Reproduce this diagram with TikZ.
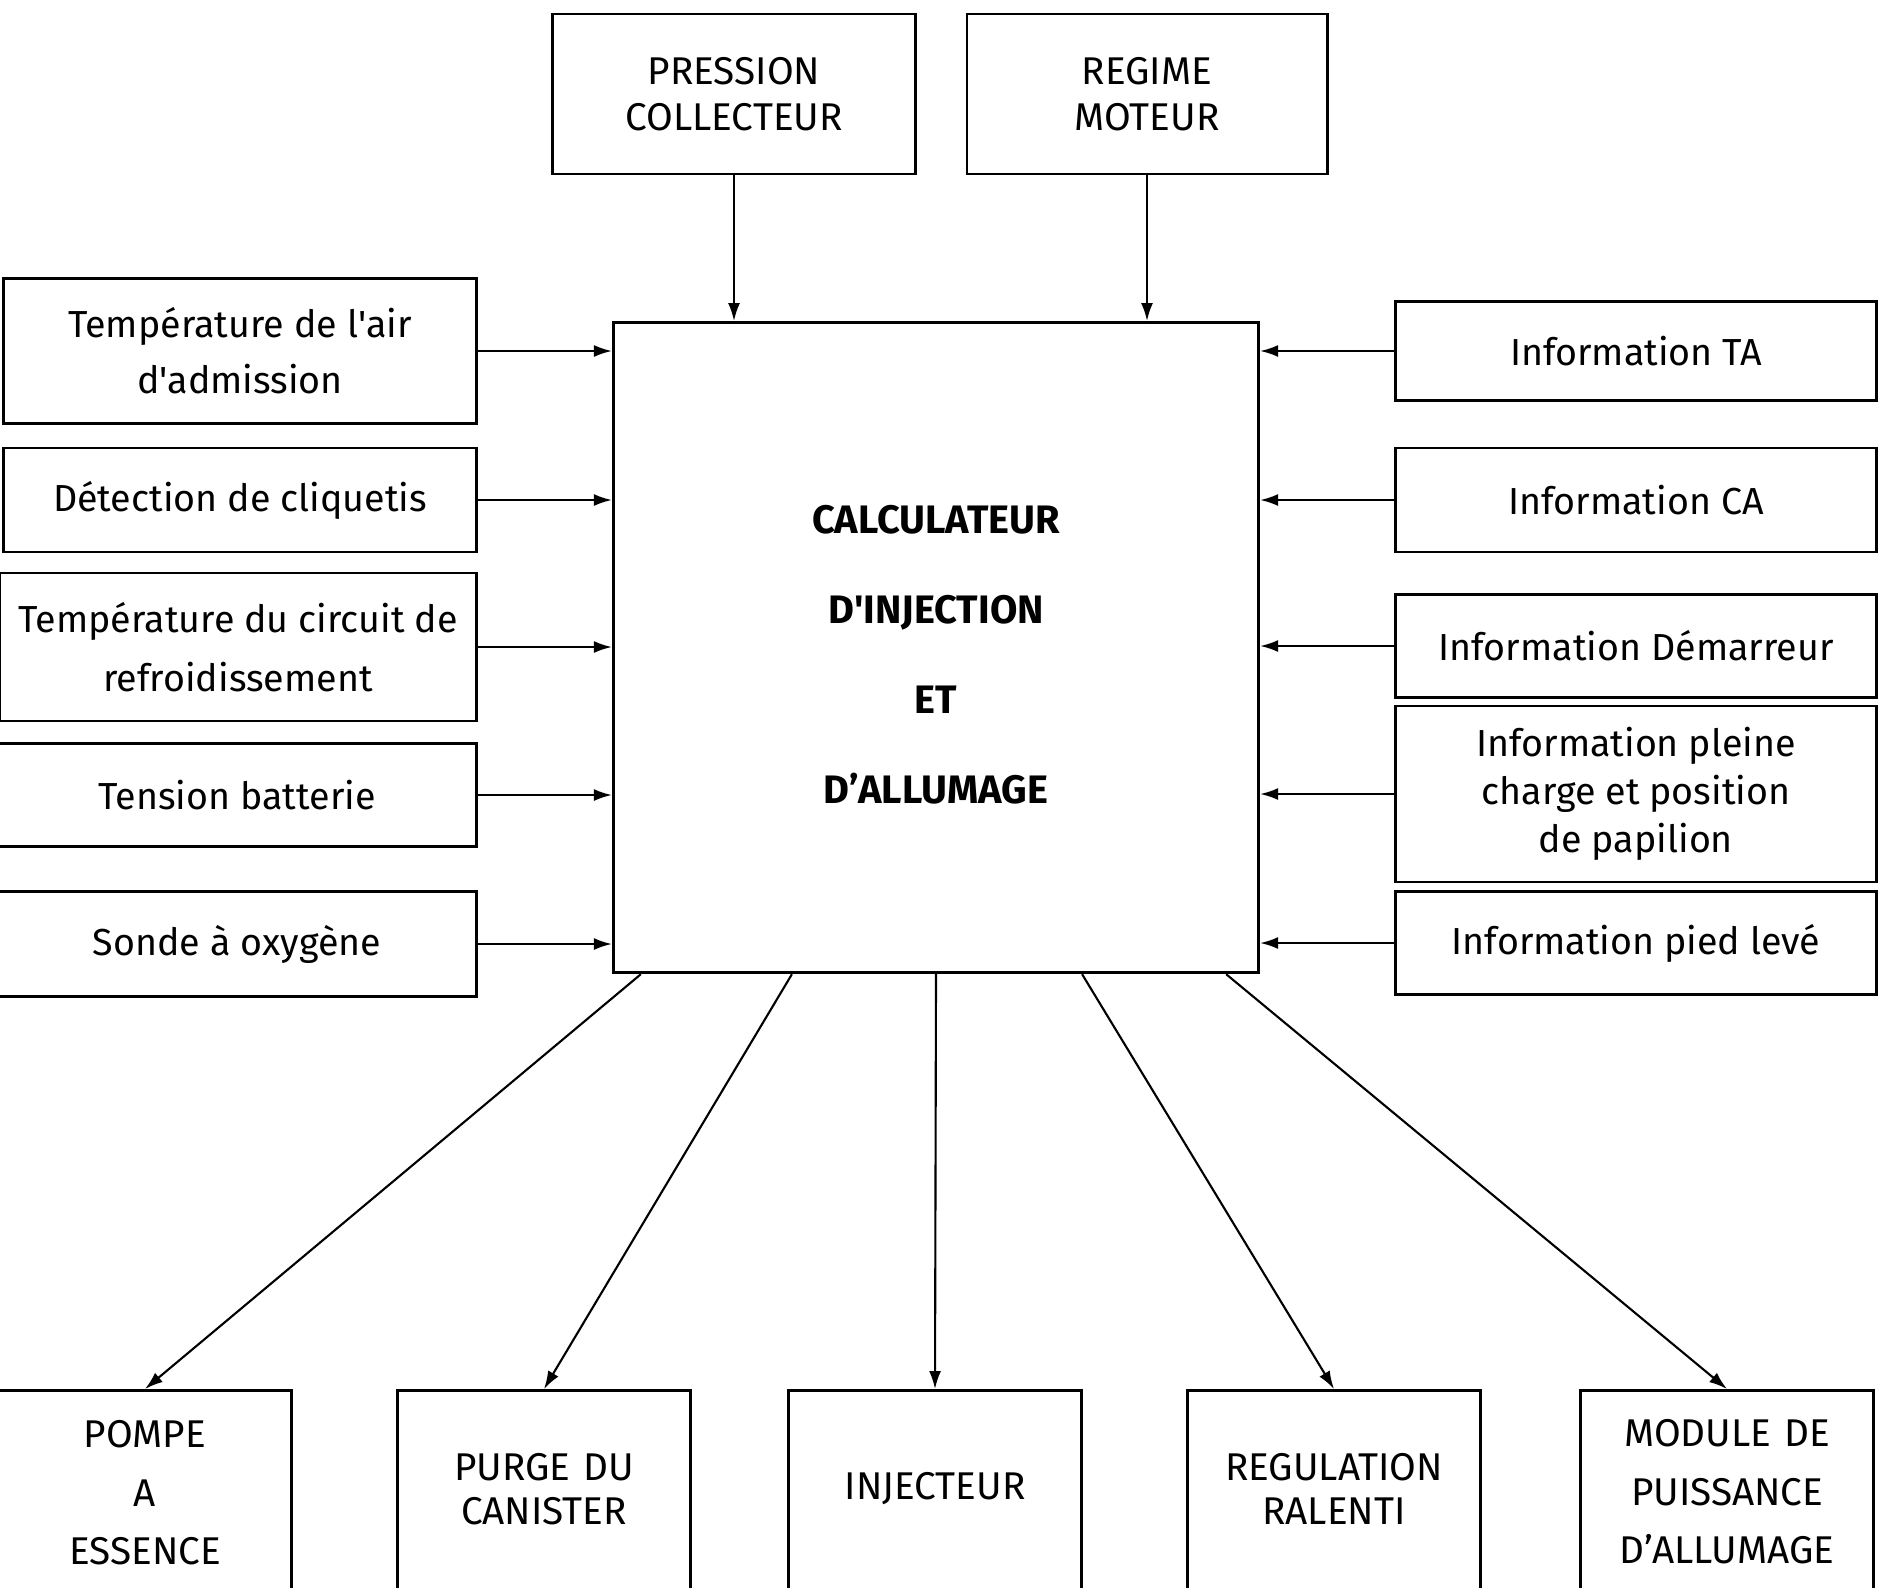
\documentclass[tikz,border=0pt]{standalone}
\usepackage{fontspec}
\setmainfont{Fira Sans}
\usetikzlibrary{arrows.meta,positioning}
\tikzset{
  box/.style={draw, line width=0.8pt, align=center, inner sep=0pt, font=\fontsize{11pt}{16pt}\selectfont},
  inbox/.style={box, minimum width=4.72cm, font=\fontsize{10.7pt}{16pt}\selectfont},
  infobox/.style={box, minimum width=4.81cm, font=\fontsize{10.7pt}{16pt}\selectfont},
  topbox/.style={box, minimum height=1.6cm, font=\fontsize{11pt}{13pt}\selectfont},
  ecu/.style={box, anchor=north, minimum width=6.45cm, text width=6.2cm, text height=2.11cm, text depth=4.39cm,
    font=\fontsize{11.3pt}{25.6pt}\selectfont\bfseries},
  outbox/.style={box, anchor=north, minimum width=2.93cm, text width=2.7cm, text depth=2.6cm},
  flow/.style={-{Latex[length=1.8mm,width=1.2mm]}, line width=0.6pt}
}
\begin{document}
\begin{tikzpicture}[x=0.01cm, y=-0.01cm]
\useasboundingbox (0,0) rectangle (1885,1587);
% capteurs du haut
\node[topbox, minimum width=3.63cm] (pression) at (734,94) {PRESSION\\COLLECTEUR};
\node[topbox, minimum width=3.6cm] (regime) at (1147,94) {REGIME\\MOTEUR};
% calculateur
\node[ecu] (calc) at (936,321) {CALCULATEUR\\D\textquotesingle INJECTION\\ET\\D'ALLUMAGE};
% entrees a gauche
\node[inbox, minimum height=1.45cm] (airtemp) at (240,351) {Température de l\textquotesingle air\\d\textquotesingle admission};
\node[inbox, minimum height=1.04cm] (cliquetis) at (240,500) {Détection de cliquetis};
\node[inbox, minimum width=4.76cm, minimum height=1.48cm, font=\fontsize{10.7pt}{16.7pt}\selectfont] (eautemp) at (238,647) {Température du circuit de\\refroidissement};
\node[inbox, minimum width=4.78cm, minimum height=1.03cm] (batterie) at (237,795) {Tension batterie};
\node[inbox, minimum width=4.78cm, minimum height=1.05cm] (sonde) at (237,944) {Sonde à oxygène};
% entrees a droite
\node[infobox, minimum height=0.99cm] (infota) at (1636,351) {Information TA};
\node[infobox, minimum height=1.04cm] (infoca) at (1636,500) {Information CA};
\node[infobox, minimum height=1.03cm] (demarreur) at (1636,646) {Information Démarreur};
\node[infobox, minimum height=1.76cm, font=\fontsize{10.7pt}{13.6pt}\selectfont] (pleinecharge) at (1636,794) {Information pleine\\charge et position\\de papilion};
\node[infobox, minimum height=1.03cm] (piedleve) at (1636,943) {Information pied levé};
% actionneurs en bas
\node[outbox, text height=0.57cm, font=\fontsize{11pt}{16.7pt}\selectfont] (pompe) at (145,1389) {POMPE\\A\\ESSENCE};
\node[outbox, text height=0.9cm, font=\fontsize{11pt}{12.6pt}\selectfont] (purge) at (544,1389) {PURGE DU\\CANISTER};
\node[outbox, text height=1.09cm] (injecteur) at (935,1389) {INJECTEUR};
\node[outbox, text height=0.9cm, font=\fontsize{11pt}{12.6pt}\selectfont] (ralenti) at (1334,1389) {REGULATION\\RALENTI};
\node[outbox, text height=0.56cm, font=\fontsize{11pt}{16.7pt}\selectfont] (module) at (1727,1389) {MODULE DE\\PUISSANCE\\D'ALLUMAGE};
% liaisons
\draw[flow] (pression) -- (pression |- calc.north);
\draw[flow] (regime) -- (regime |- calc.north);
\draw[flow] (airtemp) -- (airtemp -| calc.west);
\draw[flow] (cliquetis) -- (cliquetis -| calc.west);
\draw[flow] (eautemp) -- (eautemp -| calc.west);
\draw[flow] (batterie) -- (batterie -| calc.west);
\draw[flow] (sonde) -- (sonde -| calc.west);
\draw[flow] (infota) -- (infota -| calc.east);
\draw[flow] (infoca) -- (infoca -| calc.east);
\draw[flow] (demarreur) -- (demarreur -| calc.east);
\draw[flow] (pleinecharge) -- (pleinecharge -| calc.east);
\draw[flow] (piedleve) -- (piedleve -| calc.east);
\draw[flow] ([xshift=-2.95cm]calc.south) -- (pompe.north);
\draw[flow] ([xshift=-1.44cm]calc.south) -- (purge.north);
\draw[flow] (calc.south) -- (injecteur.north);
\draw[flow] ([xshift=1.46cm]calc.south) -- (ralenti.north);
\draw[flow] ([xshift=2.9cm]calc.south) -- (module.north);
\end{tikzpicture}
\end{document}
